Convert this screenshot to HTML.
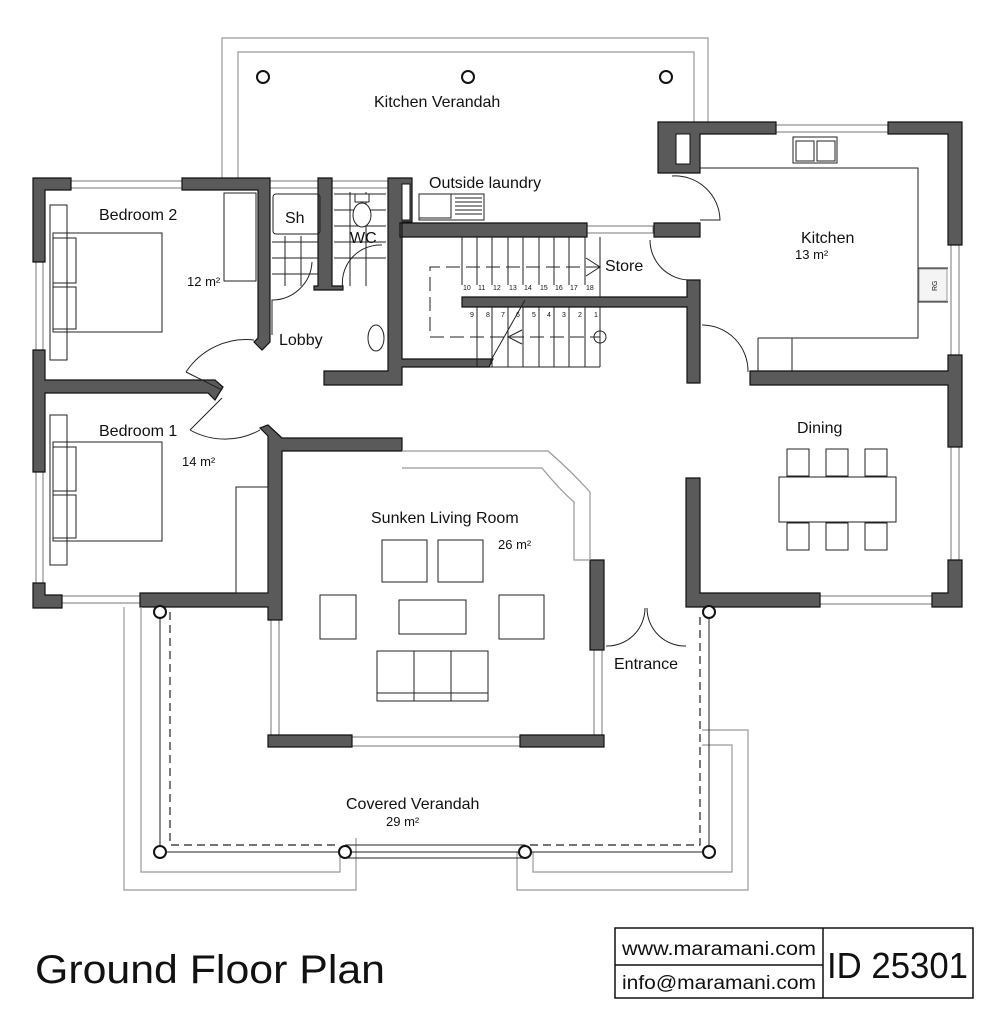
<!DOCTYPE html>
<html><head><meta charset="utf-8"><style>
html,body{margin:0;padding:0;background:#fff}
svg{display:block}
text{font-family:"Liberation Sans",sans-serif;fill:#111}
.w{fill:#5a5a5a;stroke:#111;stroke-width:1.2}
.l{fill:none;stroke:#222;stroke-width:1}
.g{fill:none;stroke:#999;stroke-width:1.2}
.win{fill:#fff;stroke:#555;stroke-width:.8}
.col{fill:#fff;stroke:#111;stroke-width:2}
.d{fill:none;stroke:#222;stroke-width:1.2;stroke-dasharray:8 5}
</style></head><body>
<svg width="1000" height="1028" viewBox="0 0 1000 1028" xmlns="http://www.w3.org/2000/svg">
<path class="g" d="M222 180V38H708V122"/>
<path class="g" d="M238 180V52H694V122"/>
<circle class="col" cx="263" cy="77" r="6"/><circle class="col" cx="468" cy="77" r="6"/><circle class="col" cx="666" cy="77" r="6"/>
<text x="374" y="107" font-size="16">Kitchen Verandah</text>

<rect class="win" x="71" y="181" width="111" height="7"/>
<rect class="win" x="270" y="181" width="48" height="7"/>
<rect class="win" x="332" y="181" width="56" height="7"/>
<rect class="win" x="36" y="262" width="7" height="88"/>
<rect class="win" x="36" y="472" width="7" height="111"/>
<rect class="win" x="62" y="596" width="78" height="7"/>
<rect class="win" x="776" y="125" width="112" height="7"/>
<rect class="win" x="951" y="245" width="8" height="110"/>
<rect class="win" x="951" y="447" width="8" height="113"/>
<rect class="win" x="820" y="596" width="112" height="8"/>
<rect class="win" x="587" y="226" width="66" height="7"/>
<rect class="win" x="271" y="607" width="8" height="128"/>
<rect class="win" x="594" y="650" width="8" height="85"/>
<rect class="win" x="352" y="737" width="168" height="9"/>

<path class="w" d="M33 178H71V190H45V262H33Z"/>
<path class="w" d="M182 178H270V342L262 350L254 342L258 338V190H182Z"/>
<path class="w" d="M33 350H45V380H215L223 387L215 400L208 393H45V472H33Z"/>
<path class="w" d="M33 583H45V595H62V608H33Z"/>
<path class="w" d="M140 593H268V436L260 428L268 425L282 438H402V451H282V620H268V607H140Z"/>
<path class="w" d="M318 178H332V286H343V290H314V286H318Z"/>
<path class="w" d="M388 178H412V222H402V237H400V223H587V237H402V359H493L489 367H402V385H324V371H388Z"/>
<rect x="402" y="184" width="8" height="36" fill="#fff" stroke="#111"/>
<path class="w" d="M462 297H687V280H700V383H687V307H462Z"/>
<path class="w" d="M654 223H700V237H654Z"/>
<path class="w" d="M658 122H776V134H700V173H658Z"/>
<rect x="676" y="134" width="14" height="30" fill="#fff" stroke="#111"/>
<path class="w" d="M888 122H962V245H948V134H888Z"/>
<path class="w" d="M948 355H962V447H948V385H750V371H948Z"/>
<path class="w" d="M686 478H700V593H820V607H686Z"/>
<path class="w" d="M948 560H962V607H932V593H948Z"/>
<path class="w" d="M590 560H604V650H590Z"/>
<path class="w" d="M268 735H352V747H268Z"/>
<path class="w" d="M520 735H604V747H520Z"/>

<path class="l" d="M186 372A72 72 0 0 1 254 340M186 372L222 390"/>
<path class="l" d="M190 430A72 72 0 0 0 260 430M190 430L222 398"/>
<path class="l" d="M272 335V300A40 40 0 0 0 312 262"/>
<path class="l" d="M343 290A38 38 0 0 1 382 245"/>
<path class="l" d="M672 176A45 45 0 0 1 720 220H700"/>
<path class="l" d="M650 240A40 40 0 0 0 690 280"/>
<path class="l" d="M702 325A46 46 0 0 1 748 372"/>
<path class="l" d="M606 646A38 38 0 0 0 645 608M686 646A38 38 0 0 1 647 608"/>

<rect class="l" x="50" y="205" width="17" height="155"/>
<rect class="l" x="53" y="233" width="109" height="99"/>
<rect class="l" x="53" y="238" width="23" height="45"/><rect class="l" x="53" y="287" width="23" height="42"/>
<rect class="l" x="224" y="193" width="32" height="88"/>
<text x="99" y="220" font-size="16">Bedroom 2</text>
<text x="187" y="286" font-size="13">12 m²</text>
<rect class="l" x="50" y="415" width="17" height="150"/>
<rect class="l" x="53" y="442" width="109" height="99"/>
<rect class="l" x="53" y="447" width="23" height="44"/><rect class="l" x="53" y="495" width="23" height="43"/>
<rect class="l" x="236" y="487" width="32" height="106"/>
<text x="99" y="436" font-size="16">Bedroom 1</text>
<text x="182" y="466" font-size="13">14 m²</text>

<rect class="l" x="273" y="194" width="47" height="40" rx="3"/>
<text x="285" y="223" font-size="16">Sh</text>
<path class="l" d="M272 242H318M272 258H318M272 274H318M285 236V286M301 236V286M334 194H386M334 210H386M334 226H386M334 242H386M334 258H386M350 192V286M366 192V286"/>
<ellipse cx="362" cy="215" rx="9" ry="12" fill="#fff" stroke="#222"/>
<rect x="355" y="194" width="14" height="8" fill="#fff" stroke="#222"/>
<text x="350" y="243" font-size="16">WC</text>
<text x="279" y="345" font-size="16">Lobby</text>
<ellipse cx="376" cy="338" rx="8" ry="13" fill="#fff" stroke="#222"/>

<rect class="l" x="419" y="194" width="32" height="24"/><rect class="l" x="419" y="194" width="65" height="26"/>
<path class="l" d="M455 198H482M455 202H482M455 206H482M455 210H482M455 214H482"/>
<text x="429" y="188" font-size="16">Outside laundry</text>

<path class="l" d="M462 237V285M477 237V285M492 237V285M508 237V285M523 237V285M539 237V285M554 237V285M569 237V285M585 237V285M600 237V297"/>
<path class="l" d="M477 307V367M492 307V367M508 307V367M523 307V367M539 307V367M554 307V367M569 307V367M585 307V367M600 307V367M489 367H600"/>
<path class="l" stroke-dasharray="14 6" d="M600 267H430V337H600"/>
<path class="l" d="M586 258L600 267L586 276M522 330L508 337L522 344M490 362L525 300"/>
<circle class="l" cx="600" cy="337" r="6"/>
<g font-size="7">
<text x="463" y="290">10</text><text x="478" y="290">11</text><text x="493" y="290">12</text><text x="509" y="290">13</text><text x="524" y="290">14</text><text x="540" y="290">15</text><text x="555" y="290">16</text><text x="570" y="290">17</text><text x="586" y="290">18</text>
<text x="470" y="317">9</text><text x="486" y="317">8</text><text x="501" y="317">7</text><text x="516" y="317">6</text><text x="532" y="317">5</text><text x="547" y="317">4</text><text x="562" y="317">3</text><text x="578" y="317">2</text><text x="594" y="317">1</text>
</g>
<text x="605" y="271" font-size="16">Store</text>

<path class="l" d="M700 168H918V338H792V371M758 338H792M758 338V371M918 268H948M918 302H948"/>
<rect class="l" x="793" y="137" width="44" height="26"/>
<rect class="l" x="796" y="141" width="18" height="20"/><rect class="l" x="817" y="141" width="18" height="20"/>
<rect x="919" y="269" width="28" height="32" fill="#f4f4f4" stroke="#999"/>
<text x="937" y="291" font-size="7" transform="rotate(-90 937 291)">RG</text>
<text x="801" y="243" font-size="16">Kitchen</text>
<text x="795" y="259" font-size="13">13 m²</text>

<rect class="l" x="779" y="477" width="117" height="45"/>
<rect class="l" x="787" y="449" width="22" height="27"/><rect class="l" x="826" y="449" width="22" height="27"/><rect class="l" x="865" y="449" width="22" height="27"/>
<rect class="l" x="787" y="523" width="22" height="27"/><rect class="l" x="826" y="523" width="22" height="27"/><rect class="l" x="865" y="523" width="22" height="27"/>
<text x="797" y="433" font-size="16">Dining</text>

<path class="g" d="M402 451H548Q570 470 590 492V560"/>
<path class="g" d="M402 468H542Q560 490 574 502V560H590"/>
<rect class="l" x="382" y="540" width="45" height="42"/><rect class="l" x="438" y="540" width="45" height="42"/>
<rect class="l" x="320" y="595" width="36" height="44"/><rect class="l" x="499" y="595" width="45" height="44"/>
<rect class="l" x="399" y="600" width="67" height="34"/>
<rect class="l" x="377" y="651" width="111" height="50"/>
<path class="l" d="M414 651V701M451 651V701M377 693H488"/>
<text x="371" y="523" font-size="16">Sunken Living Room</text>
<text x="498" y="549" font-size="13">26 m²</text>
<text x="614" y="669" font-size="16">Entrance</text>

<path class="g" d="M124 607V890H356V838"/>
<path class="g" d="M141 607V872H340V852"/>
<path class="g" d="M517 852V890H748V730H702"/>
<path class="g" d="M533 852V872H732V745H702"/>
<path class="l" d="M160 612V852M709 612V852M345 852H709M160 852H345M345 845H525V858H345"/>
<path class="d" d="M170 612V845H340M530 845H700V612"/>
<circle class="col" cx="160" cy="612" r="6"/><circle class="col" cx="709" cy="612" r="6"/>
<circle class="col" cx="160" cy="852" r="6"/><circle class="col" cx="345" cy="852" r="6"/><circle class="col" cx="525" cy="852" r="6"/><circle class="col" cx="709" cy="852" r="6"/>
<text x="346" y="809" font-size="16">Covered Verandah</text>
<text x="386" y="826" font-size="13">29 m²</text>

<text x="35" y="983" font-size="40" textLength="350" lengthAdjust="spacingAndGlyphs">Ground Floor Plan</text>
<rect x="615" y="928" width="358" height="70" fill="none" stroke="#111" stroke-width="1.5"/>
<path d="M823 928V998M615 965H823" stroke="#111" stroke-width="1.5"/>
<text x="622" y="955" font-size="19" textLength="194" lengthAdjust="spacingAndGlyphs">www.maramani.com</text>
<text x="622" y="989" font-size="19" textLength="194" lengthAdjust="spacingAndGlyphs">info@maramani.com</text>
<text x="827" y="978" font-size="36" textLength="141" lengthAdjust="spacingAndGlyphs">ID 25301</text>
</svg>
</body></html>
